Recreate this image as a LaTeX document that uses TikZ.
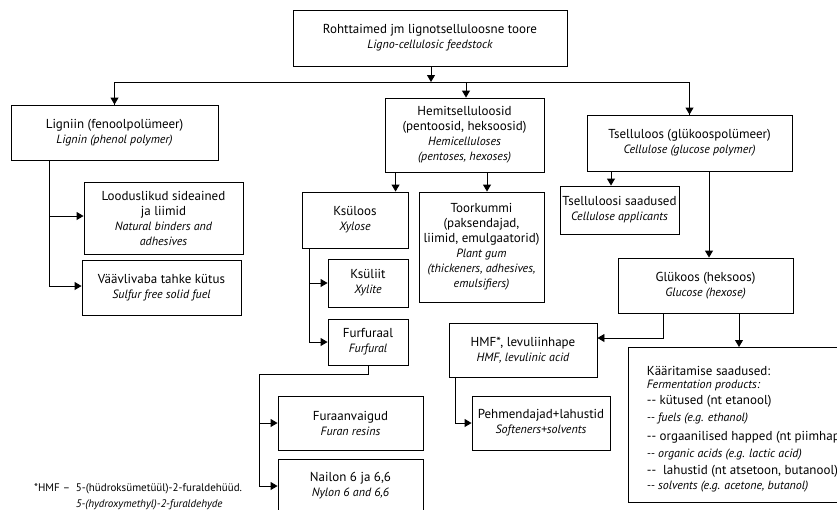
\documentclass[tikz,border=0pt]{standalone}
\usepackage{fontspec}
\setmainfont{PT Sans}
\usetikzlibrary{arrows.meta}

\newcommand{\entxt}[1]{{\fontsize{12}{14}\selectfont\itshape #1}}

\begin{document}
\begin{tikzpicture}[x=1pt,y=-1pt,
  box_node/.style={draw,line width=0.9pt,align=center,inner sep=1pt,font=\fontsize{13}{15}\selectfont},
  link/.style={line width=0.9pt,-{Triangle[width=8pt,length=7pt]}},
  plain_link/.style={line width=0.9pt}]
\useasboundingbox (0,0) rectangle (837,509);
% first level
\node[box_node,minimum width=274pt,minimum height=56pt] (feed) at (430,38) {Rohttaimed jm lignotselluloosne toore\\ \entxt{Ligno-cellulosic feedstock}};
\node[box_node,minimum width=207pt,minimum height=55pt] (lignin) at (114.5,132.5) {Ligniin (fenoolpolümeer)\\ \entxt{Lignin (phenol polymer)}};
\node[box_node,minimum width=159pt,minimum height=74pt] (hemi) at (464.5,135) {Hemitselluloosid\\(pentoosid, heksoosid)\\ \entxt{Hemicelluloses}\\ \entxt{(pentoses, hexoses)}};
\node[box_node,minimum width=205pt,minimum height=56pt] (cell) at (689.5,143) {Tselluloos (glükoospolümeer)\\ \entxt{Cellulose (glucose polymer)}};
% lignin products
\node[box_node,minimum width=159pt,minimum height=72pt] (binder) at (163.5,218) {Looduslikud sideained\\ja liimid\\ \entxt{Natural binders and}\\ \entxt{adhesives}};
\node[box_node,minimum width=159pt,minimum height=55pt] (fuel) at (161.5,287.5) {Väävlivaba tahke kütus\\ \entxt{Sulfur free solid fuel}};
% hemicellulose products
\node[box_node,minimum width=106pt,minimum height=56pt] (xylose) at (355,220) {Ksüloos\\ \entxt{Xylose}};
\node[box_node,minimum width=125pt,minimum height=110pt] (gum) at (481.5,247) {Toorkummi\\(paksendajad,\\liimid, emulgaatorid)\\ \entxt{Plant gum}\\ \entxt{(thickeners, adhesives,}\\ \entxt{emulsifiers)}};
\node[box_node,minimum width=80pt,minimum height=48pt] (xylite) at (368,283) {Ksüliit\\ \entxt{Xylite}};
\node[box_node,minimum width=80pt,minimum height=46pt] (furfural) at (368,342) {Furfuraal\\ \entxt{Furfural}};
\node[box_node,minimum width=145pt,minimum height=54pt] (resin) at (350.5,423) {Furaanvaigud\\ \entxt{Furan resins}};
\node[box_node,minimum width=145pt,minimum height=54pt] (nylon) at (350.5,486) {Nailon 6 ja 6,6\\ \entxt{Nylon 6 and 6,6}};
% cellulose products
\node[box_node,minimum width=119pt,minimum height=48pt] (celprod) at (619.5,210) {Tselluloosi saadused\\ \entxt{Cellulose applicants}};
\node[box_node,minimum width=175pt,minimum height=55pt] (glucose) at (705.5,285.5) {Glükoos (heksoos)\\ \entxt{Glucose (hexose)}};
\node[box_node,minimum width=148pt,minimum height=54pt] (hmf) at (523,350) {HMF*, levuliinhape\\ \entxt{HMF, levulinic acid}};
\node[box_node,minimum width=138pt,minimum height=54pt] (soft) at (541,423) {Pehmendajad+lahustid\\ \entxt{Softeners+solvents}};
\node[box_node,align=left,anchor=north west,minimum width=240pt,minimum height=155pt,inner sep=4pt] (ferm) at (628,347) {\rule{0pt}{17pt}{\fontsize{13}{15}\selectfont Kääritamise saadused:}\\[-2pt]
  {\fontsize{12}{14}\selectfont\itshape Fermentation products:}\\[1pt]
  -{}- kütused (nt etanool)\\[2pt]
  {\fontsize{12}{14}\selectfont\itshape -{}- fuels (e.g. ethanol)}\\[4pt]
  -{}- orgaanilised happed (nt piimhape)\\[2pt]
  {\fontsize{12}{14}\selectfont\itshape -{}- organic acids (e.g. lactic acid)}\\[2pt]
  -{}- \ lahustid (nt atsetoon, butanool)\\[0pt]
  {\fontsize{12}{14}\selectfont\itshape -{}- solvents (e.g. acetone, butanol)}};
% footnote
\node[anchor=north west,inner sep=0pt,font=\fontsize{11}{16}\selectfont] (note) at (34,480) {\begin{tabular}{@{}l@{\ \ }l@{}}*HMF -- & 5-(hüdroksümetüül)-2-furaldehüüd.\\ & \textit{5-(hydroxymethyl)-2-furaldehyde}\end{tabular}};
% connectors
\coordinate (split) at (431,82);
\draw[link] (feed.south -| split) -- (split);
\draw[plain_link] (split) -| (lignin.north);
\draw[plain_link] (split) -| (cell.north);
\draw[link] (split) -| (lignin.north);
\draw[link] ([xshift=1.5pt]hemi.north |- split) -- ([xshift=1.5pt]hemi.north);
\draw[link] (split) -| (cell.north);
\coordinate (ltrunk) at ([xshift=39pt]lignin.south west);
\draw[link] (ltrunk) |- ([yshift=2pt]binder.west);
\draw[link] (ltrunk) |- ([yshift=1.5pt]fuel.west);
\draw[link] ([xshift=11pt]hemi.south west) -- ([xshift=11pt]hemi.south west |- xylose.north);
\draw[link] ([xshift=5.5pt]gum.north |- hemi.south) -- ([xshift=5.5pt]gum.north);
\coordinate (xtrunk) at ([xshift=8pt]xylose.south west);
\draw[link] (xtrunk) |- (xylite.west);
\draw[link] (xtrunk) |- (furfural.west);
\coordinate (fbend) at (259,374);
\draw[link] (furfural.south) |- (fbend) |- (resin.west);
\draw[link] (fbend) |- (nylon.west);
\draw[link] ([xshift=-8.5pt]celprod.north |- cell.south) -- ([xshift=-8.5pt]celprod.north);
\draw[link] ([xshift=3.5pt]glucose.north |- cell.south) -- ([xshift=3.5pt]glucose.north);
\draw[link] ([xshift=-42.5pt]glucose.south) |- ([yshift=12pt]hmf.east);
\draw[link] ([xshift=33.5pt]glucose.south) -- ([xshift=33.5pt]glucose.south |- ferm.north);
\draw[link] ([xshift=7pt]hmf.south west) |- (soft.west);
\end{tikzpicture}
\end{document}
